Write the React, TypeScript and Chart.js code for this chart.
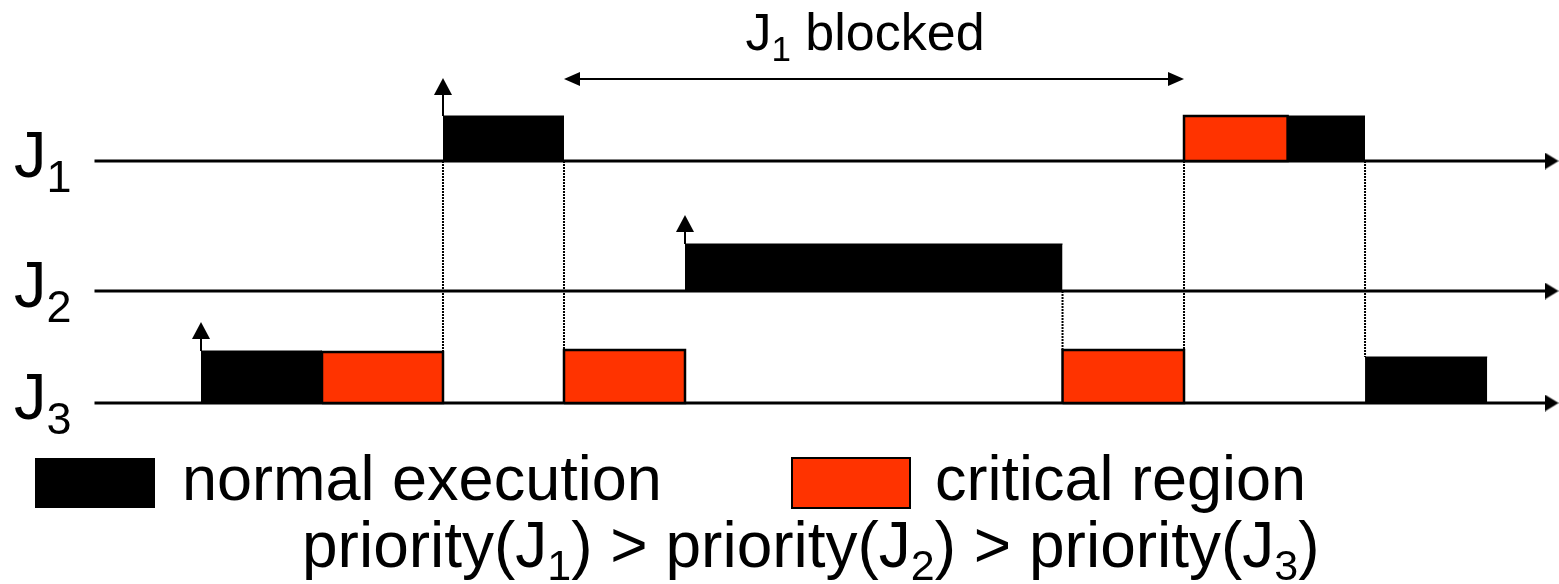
import React, { useEffect, useRef } from 'react';
import { Chart, registerables } from 'chart.js';

Chart.register(...registerables);

// ---------- data ----------
const JOB_SUBS = ['1', '2', '3'];
const BASELINES = [4.23, 2.93, 1.81]; // y level of each job's time axis
const AXIS_START = -0.88;
const AXIS_END = 11.22;

// execution segments
const SEG_JOB = [0, 0, 0, 1, 2, 2, 2, 2, 2];
const SEG_START = [2, 8.124, 8.98, 4, 0, 1, 3, 7.12, 9.62];
const SEG_END = [3, 8.98, 9.62, 7.12, 1, 2, 4, 8.124, 10.63];
const SEG_KIND = ['normal', 'critical', 'normal', 'normal', 'normal', 'critical', 'critical', 'critical', 'normal'];
const SEG_HEIGHT = [0.45, 0.45, 0.45, 0.47, 0.52, 0.51, 0.53, 0.53, 0.46];

// release arrows
const RELEASE_JOB = [0, 1, 2];
const RELEASE_T = [2, 4, 0];
const RELEASE_TIP = [5.06, 3.69, 2.62];

// dotted drop lines
const DROP_T = [2, 3, 7.12, 8.124, 9.62];
const DROP_FROM = [4.23, 4.23, 2.93, 4.23, 4.23];
const DROP_TO = [2.32, 2.34, 2.34, 2.34, 2.27];

// blocked interval
const BLOCKED_FROM = 3;
const BLOCKED_TO = 8.124;
const BLOCKED_Y = 5.05;
const BLOCKED_TEXT: Array<[string, boolean]> = [['J', false], ['1', true], [' blocked', false]];

const LEGEND_LABELS = ['normal execution', 'critical region'];
const PRIORITY_TEXT: Array<[string, boolean]> = [
  ['priority(J', false], ['1', true], [') > priority(J', false], ['2', true],
  [') > priority(J', false], ['3', true], [')', false],
];

// ---------- styles ----------
const RED = '#FF3300';
const BLACK = '#000000';
const FONT = '"Liberation Sans", Arial, Helvetica, sans-serif';
const X_MIN = -1.661;
const X_MAX = 11.223;
const Y_MIN = 0;
const Y_MAX = 5.84;
const PX_X = 121; // px per x unit (canvas 1559 wide)
const PX_Y = 100; // px per y unit (canvas 584 tall)

// arrowhead image pointing up: width w, length h
function makeHead(w: number, h: number): HTMLCanvasElement {
  const c = document.createElement('canvas');
  c.width = w;
  c.height = h;
  const g = c.getContext('2d')!;
  g.fillStyle = BLACK;
  g.beginPath();
  g.moveTo(w / 2, 0);
  g.lineTo(w, h);
  g.lineTo(0, h);
  g.closePath();
  g.fill();
  return c;
}

function drawRich(ctx: CanvasRenderingContext2D, parts: Array<[string, boolean]>, x: number, y: number, size: number, subSize: number, subDy: number) {
  let cx = x;
  for (const [t, sub] of parts) {
    ctx.font = `${sub ? subSize : size}px ${FONT}`;
    ctx.fillText(t, cx, sub ? y + subDy : y);
    cx += ctx.measureText(t).width;
  }
}

const textPlugin = {
  id: 'diagramText',
  afterDraw(chart: any) {
    const { ctx } = chart;
    const ys = chart.scales.y;
    const xs = chart.scales.x;
    ctx.save();
    ctx.fillStyle = BLACK;
    ctx.textBaseline = 'alphabetic';
    ctx.textAlign = 'left';
    JOB_SUBS.forEach((s, i) => {
      drawRich(ctx, [['J', false], [s, true]], 14, ys.getPixelForValue(BASELINES[i]) + 16, 65, 45, 15);
    });
    // blocked label centred over the arrow
    let w = 0;
    for (const [t, sub] of BLOCKED_TEXT) {
      ctx.font = `${sub ? 35 : 52}px ${FONT}`;
      w += ctx.measureText(t).width;
    }
    const cx = (xs.getPixelForValue(BLOCKED_FROM) + xs.getPixelForValue(BLOCKED_TO)) / 2 - 9;
    drawRich(ctx, BLOCKED_TEXT, cx - w / 2, ys.getPixelForValue(BLOCKED_Y) - 29, 52, 35, 11);

    // legend
    ctx.fillStyle = BLACK;
    ctx.fillRect(35, 458, 120, 50);
    ctx.fillStyle = RED;
    ctx.fillRect(792, 458, 118, 50);
    ctx.strokeStyle = BLACK;
    ctx.lineWidth = 2;
    ctx.strokeRect(792, 458, 118, 50);
    ctx.fillStyle = BLACK;
    ctx.font = `63px ${FONT}`;
    ctx.fillText(LEGEND_LABELS[0], 182, 500);
    ctx.fillText(LEGEND_LABELS[1], 935, 500);
    drawRich(ctx, PRIORITY_TEXT, 302, 567, 64, 43, 13);
    ctx.restore();
  },
};

export default function App() {
  const ref = useRef<HTMLCanvasElement>(null);
  useEffect(() => {
    document.body.style.margin = '0';
    document.body.style.overflow = 'hidden';
    const upHead = makeHead(18, 17);
    const axisHead = makeHead(17, 14);
    const blockHead = makeHead(14, 16);

    const datasets: any[] = [];
    const base = { showLine: true, clip: false, pointRadius: 0, pointBorderWidth: 0, pointBackgroundColor: BLACK, fill: false };

    // dotted drop lines
    DROP_T.forEach((t, i) => {
      datasets.push({ ...base, data: [{ x: t, y: DROP_FROM[i] }, { x: t, y: DROP_TO[i] }], borderColor: BLACK, borderWidth: 2, borderDash: [2, 1], order: 6 });
    });

    // time axes with arrowheads
    const axisCenter = AXIS_END - 7 / PX_X;
    BASELINES.forEach((b) => {
      datasets.push({
        ...base, data: [{ x: AXIS_START, y: b }, { x: axisCenter, y: b }], borderColor: BLACK, borderWidth: 3,
        pointRadius: [0, 8], pointStyle: axisHead, pointRotation: 90, order: 5,
      });
    });

    // execution bars
    SEG_JOB.forEach((j, i) => {
      const b = BASELINES[j];
      const top = b + SEG_HEIGHT[i];
      const color = SEG_KIND[i] === 'critical' ? RED : BLACK;
      datasets.push({
        ...base, data: [{ x: SEG_START[i], y: top }, { x: SEG_END[i], y: top }],
        fill: { value: b }, backgroundColor: color, borderColor: color, borderWidth: 1, order: 4,
      });
      if (SEG_KIND[i] === 'critical') {
        datasets.push({
          ...base,
          data: [
            { x: SEG_START[i], y: b }, { x: SEG_START[i], y: top }, { x: SEG_END[i], y: top },
            { x: SEG_END[i], y: b }, { x: SEG_START[i], y: b },
          ],
          borderColor: BLACK, borderWidth: 2.5, borderJoinStyle: 'miter', order: 3,
        });
      }
    });

    // release arrows
    RELEASE_JOB.forEach((j, i) => {
      const t = RELEASE_T[i];
      const seg = SEG_JOB.findIndex((sj, k) => sj === j && SEG_START[k] === t);
      const from = BASELINES[j] + (seg >= 0 ? SEG_HEIGHT[seg] : 0);
      const head = RELEASE_TIP[i] - 8.5 / PX_Y;
      datasets.push({
        ...base, data: [{ x: t, y: from }, { x: t, y: head }], borderColor: BLACK, borderWidth: 2,
        pointRadius: [0, 8], pointStyle: upHead, pointRotation: 0, order: 1,
      });
    });

    // blocked double arrow
    const off = 8 / PX_X;
    datasets.push({
      ...base, data: [{ x: BLOCKED_FROM + off, y: BLOCKED_Y }, { x: BLOCKED_TO - off, y: BLOCKED_Y }],
      borderColor: BLACK, borderWidth: 2, pointRadius: 8, pointStyle: blockHead,
      pointRotation: [-90, 90], order: 1,
    });

    const chart = new Chart(ref.current!, {
      type: 'line',
      data: { datasets },
      options: {
        animation: false,
        responsive: false,
        devicePixelRatio: 1,
        events: [],
        layout: { padding: 0, autoPadding: false } as any,
        plugins: { legend: { display: false }, tooltip: { enabled: false }, title: { display: false } },
        scales: {
          x: { type: 'linear', min: X_MIN, max: X_MAX, display: false },
          y: { type: 'linear', min: Y_MIN, max: Y_MAX, display: false },
        },
      },
      plugins: [textPlugin],
    } as any);
    return () => chart.destroy();
  }, []);
  return <canvas ref={ref} width={1559} height={584} style={{ display: 'block', width: 1559, height: 584 }} />;
}
